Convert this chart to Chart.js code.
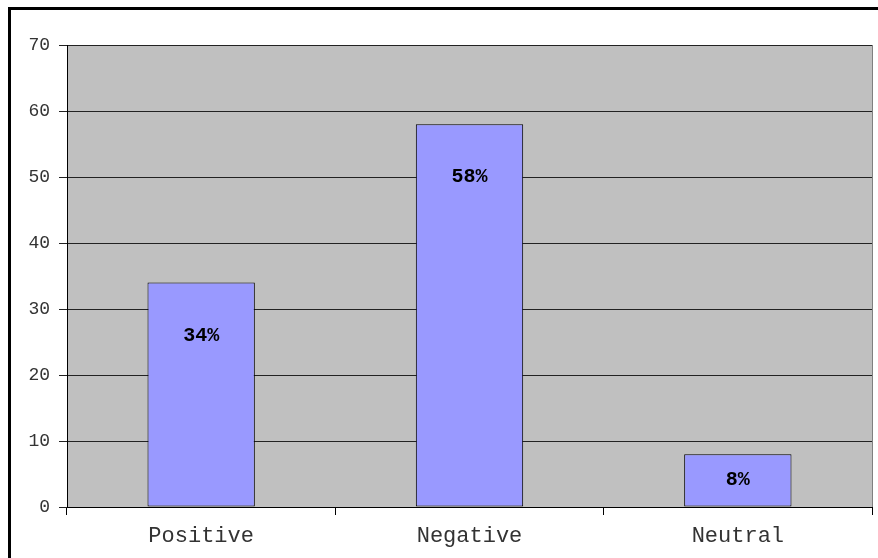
<!DOCTYPE html>
<html>
<head>
<meta charset="utf-8">
<script src="https://cdn.jsdelivr.net/npm/chart.js@4/dist/chart.umd.min.js"></script>
<style>
  html, body { margin: 0; padding: 0; background: #fff; }
  #wrap { width: 878px; height: 558px; }
</style>
</head>
<body>
<div id="wrap"><canvas id="myChart" width="878" height="558"></canvas></div>
<script>
// sentiment split
const categories = ['Positive', 'Negative', 'Neutral'];
const shares = [34, 58, 8];
const yMin = 0, yMax = 70, yStep = 10;

// gray plot background + outer frame
const backdrop = {
  id: 'backdrop',
  beforeDraw(chart) {
    const { ctx, chartArea: a } = chart;
    ctx.save();
    ctx.fillStyle = '#c0c0c0';
    ctx.fillRect(a.left, a.top, a.right - a.left, a.bottom - a.top);
    ctx.strokeStyle = '#808080';
    ctx.lineWidth = 1;
    ctx.beginPath();
    ctx.moveTo(a.right + 0.5, a.top);
    ctx.lineTo(a.right + 0.5, a.bottom);
    ctx.stroke();
    // frame
    ctx.strokeStyle = '#000';
    ctx.lineWidth = 3;
    ctx.beginPath();
    ctx.moveTo(9.5, 600);
    ctx.lineTo(9.5, 8.5);
    ctx.lineTo(900, 8.5);
    ctx.stroke();
    ctx.restore();
  }
};

// percentage labels inside the bars
const barLabels = {
  id: 'barLabels',
  afterDatasetsDraw(chart) {
    const { ctx } = chart;
    const meta = chart.getDatasetMeta(0);
    ctx.save();
    ctx.font = 'bold 20px "Liberation Mono", monospace';
    ctx.fillStyle = '#000';
    ctx.textAlign = 'center';
    ctx.textBaseline = 'middle';
    meta.data.forEach((bar, i) => {
      const y = Math.min(bar.y + 53, (bar.y + bar.base) / 2);
      ctx.fillText(shares[i] + '%', bar.x, y);
    });
    ctx.restore();
  }
};

new Chart(document.getElementById('myChart').getContext('2d'), {
  type: 'bar',
  data: {
    labels: categories,
    datasets: [{
      data: shares,
      backgroundColor: '#9999ff',
      borderColor: '#000',
      borderWidth: 1,
      borderSkipped: false,
      barPercentage: 0.4,
      categoryPercentage: 1
    }]
  },
  options: {
    responsive: false,
    animation: false,
    layout: { padding: { left: 0, top: 45, right: 6, bottom: 0 } },
    plugins: {
      legend: { display: false },
      tooltip: { enabled: false }
    },
    scales: {
      x: {
        afterFit(s) { s.height = 51; },
        grid: {
          offset: true,
          drawOnChartArea: false,
          color: '#000',
          tickLength: 8
        },
        border: { color: '#000', width: 1 },
        ticks: {
          padding: 8,
          color: '#333',
          font: { family: '"Liberation Mono", monospace', size: 22 }
        }
      },
      y: {
        min: yMin,
        max: yMax,
        afterFit(s) { s.width = 67; },
        grid: {
          color: '#222',
          tickLength: 8
        },
        border: { color: '#000', width: 1 },
        ticks: {
          stepSize: yStep,
          padding: 9,
          color: '#333',
          font: { family: '"Liberation Mono", monospace', size: 18 }
        }
      }
    }
  },
  plugins: [backdrop, barLabels]
});
</script>
</body>
</html>
